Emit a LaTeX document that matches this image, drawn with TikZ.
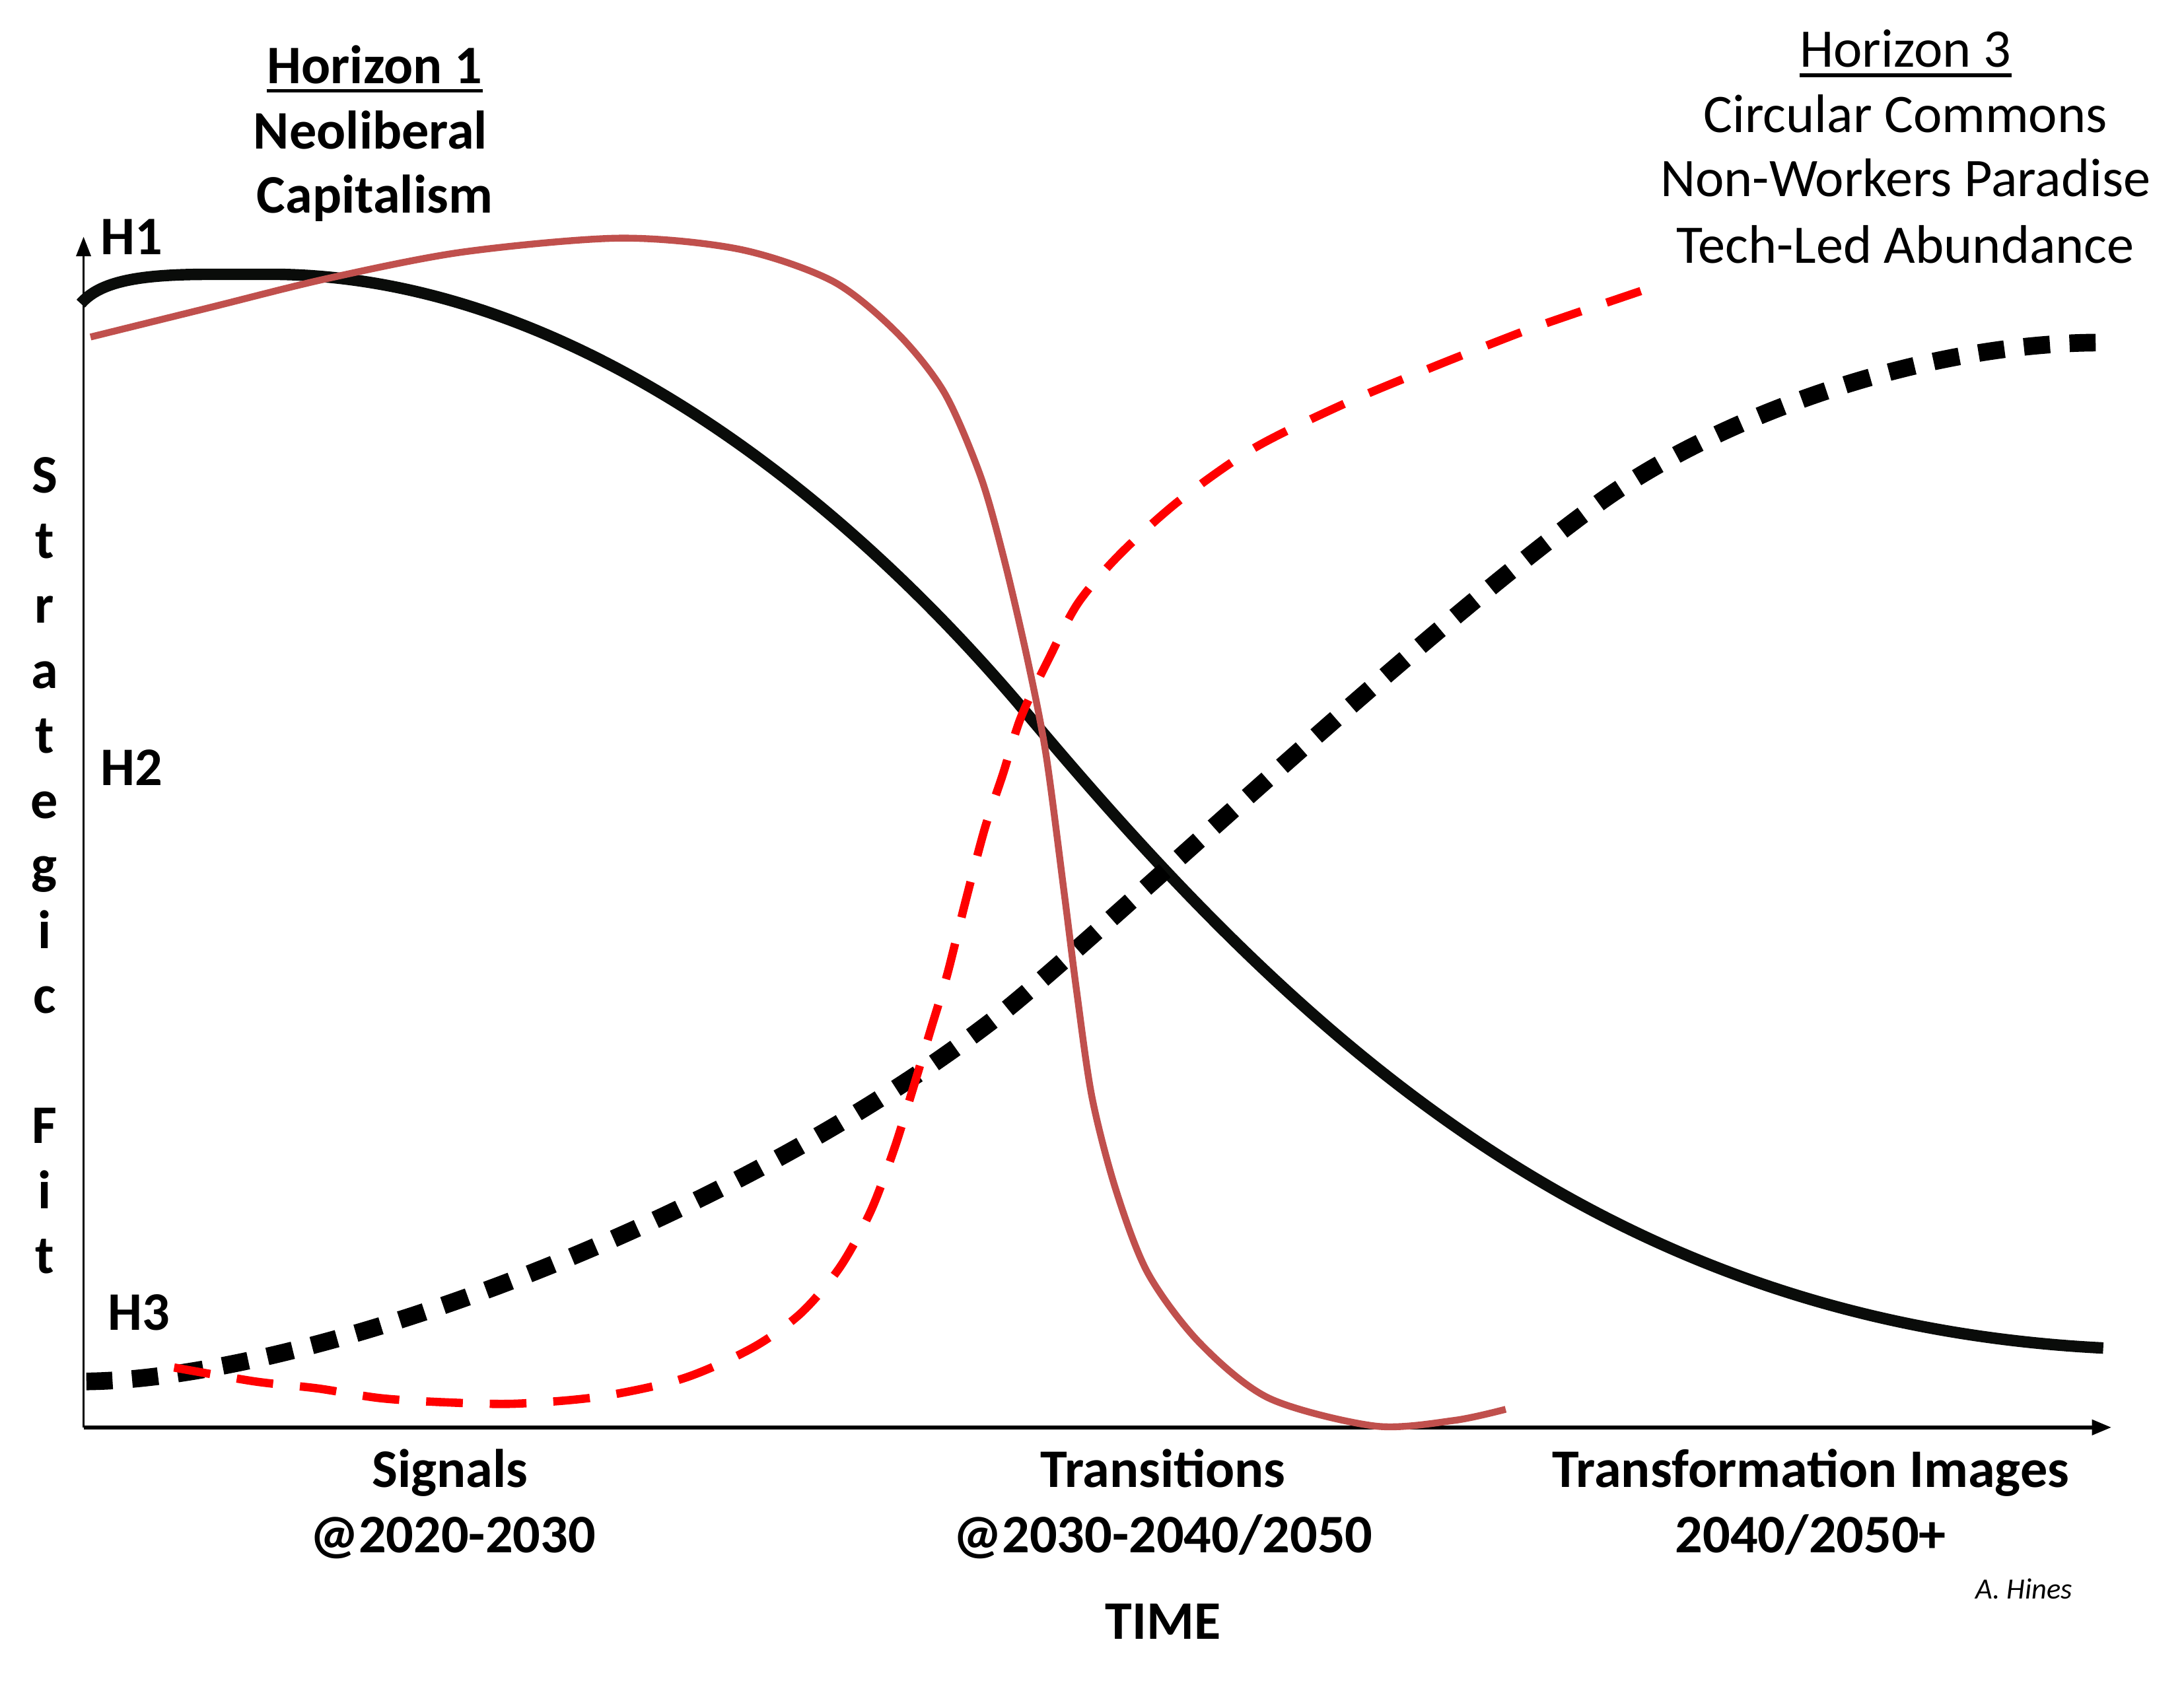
\documentclass[tikz,border=0pt]{standalone}
\usepackage{fontspec}
\setmainfont{Carlito}
\usetikzlibrary{arrows.meta}
\definecolor{brownred}{HTML}{C0504D}
\definecolor{curveblack}{HTML}{0A0C0A}
\begin{document}
\begin{tikzpicture}[x=0.02cm,y=-0.02cm,
  lbl/.style={inner sep=0pt,anchor=base,font=\fontsize{22.2}{26}\selectfont\bfseries},
  lblr/.style={inner sep=0pt,anchor=base,font=\fontsize{22.2}{26}\selectfont},
  axisline/.style={-{Triangle[length=8pt,width=6pt]}},
  hone/.style={curveblack,line width=4.7pt,line cap=butt},
  brownc/.style={brownred,line width=2.8pt,line cap=butt},
  reddash/.style={red,line width=3.4pt,dash pattern=on 15pt off 11pt},
  blackdot/.style={black,line width=7.2pt,dash pattern=on 10.7pt off 8pt}]
\useasboundingbox (0,0) rectangle (1568,1211);
% axes
\coordinate (origin) at (60,1025);
\coordinate (ytip) at (60,170);
\coordinate (xtip) at (1516,1025);
\draw[axisline,line width=0.9pt] (origin) -- (ytip);
\draw[axisline,line width=1.7pt] (origin) -- (xtip);
% curves
\draw[hone] (58,218) .. controls (72,202) and (100,197) .. (150,197) -- (200,197)
  .. controls (400,200) and (590,340) .. (731,505)
  .. controls (931,745) and (1150,950) .. (1510,968);
\draw[blackdot] (62,992) .. controls (220,990) and (520,880) .. (711,734)
  .. controls (780,681) and (1000,470) .. (1144,364)
  .. controls (1230,300) and (1380,246) .. (1508,246);
\draw[reddash] plot[smooth,tension=0.5] coordinates {(125,982) (183,992) (228,997) (273,1004) (320,1007) (370,1008) (430,1003) (490,990) (540,968) (575,943) (603,910) (625,870) (642,825) (656,780) (668,740) (680,700) (693,648) (707,595) (720,556) (733,515) (753,473) (774,433) (804,398) (846,360) (900,322) (965,290) (1030,263) (1091,239) (1122,228) (1178,209)};
\draw[brownc] plot[smooth,tension=0.5] coordinates {(65,242) (150,221) (235,200) (332,181) (445,171) (531,179) (598,202) (644,239) (678,282) (704,342) (721,402) (738,475) (751,542) (764,641) (773,712) (784,788) (801,854) (824,914) (861,964) (911,1004) (987,1024) (1044,1020) (1081,1012)};
% Horizon 1
\node[lbl] (hzone) at (269,60) {Horizon 1};
\draw[line width=1.5pt] ([yshift=-3pt]hzone.base west) -- ([yshift=-3pt]hzone.base east);
\node[lbl] (neo) at (266,107) {Neoliberal};
\node[lbl] (cap) at (269,153) {Capitalism};
% Horizon 3
\node[lblr] (hzthree) at (1368,48) {Horizon 3};
\draw[line width=1.5pt] ([yshift=-3.4pt]hzthree.base west) -- ([yshift=-3.4pt]hzthree.base east);
\node[lblr] (circ) at (1368,95) {Circular Commons};
\node[lblr] (nonw) at (1368,141) {Non-Workers Paradise};
\node[lblr] (tech) at (1368,189) {Tech-Led Abundance};
% H labels
\node[lbl,anchor=base west] (hone) at (72,183) {H1};
\node[lbl,anchor=base west] (htwo) at (72,564) {H2};
\node[lbl,anchor=base west] (hthree) at (77,955) {H3};
% vertical axis label
\foreach \ch [count=\k from 0] in {S,t,r,a,t,e,g,i,c,{},F,i,t} {
  \node[lbl] (sf\k) at (32,354+46.7*\k) {\ch};
}
% bottom labels
\node[lbl] (sig) at (323,1068) {Signals};
\node[lbl] (sigd) at (325,1115) {@2020-2030};
\node[lbl] (trans) at (835,1068) {Transitions};
\node[lbl] (transd) at (835,1115) {@2030-2040/2050};
\node[lbl] (tform) at (1300,1068) {Transformation Images};
\node[lbl] (tformd) at (1300,1115) {2040/2050+};
\node[lbl] (time) at (835,1177) {TIME};
\node[inner sep=0pt,anchor=base,font=\fontsize{12}{14}\selectfont\itshape] (author) at (1453,1148) {A. Hines};
\end{tikzpicture}
\end{document}
